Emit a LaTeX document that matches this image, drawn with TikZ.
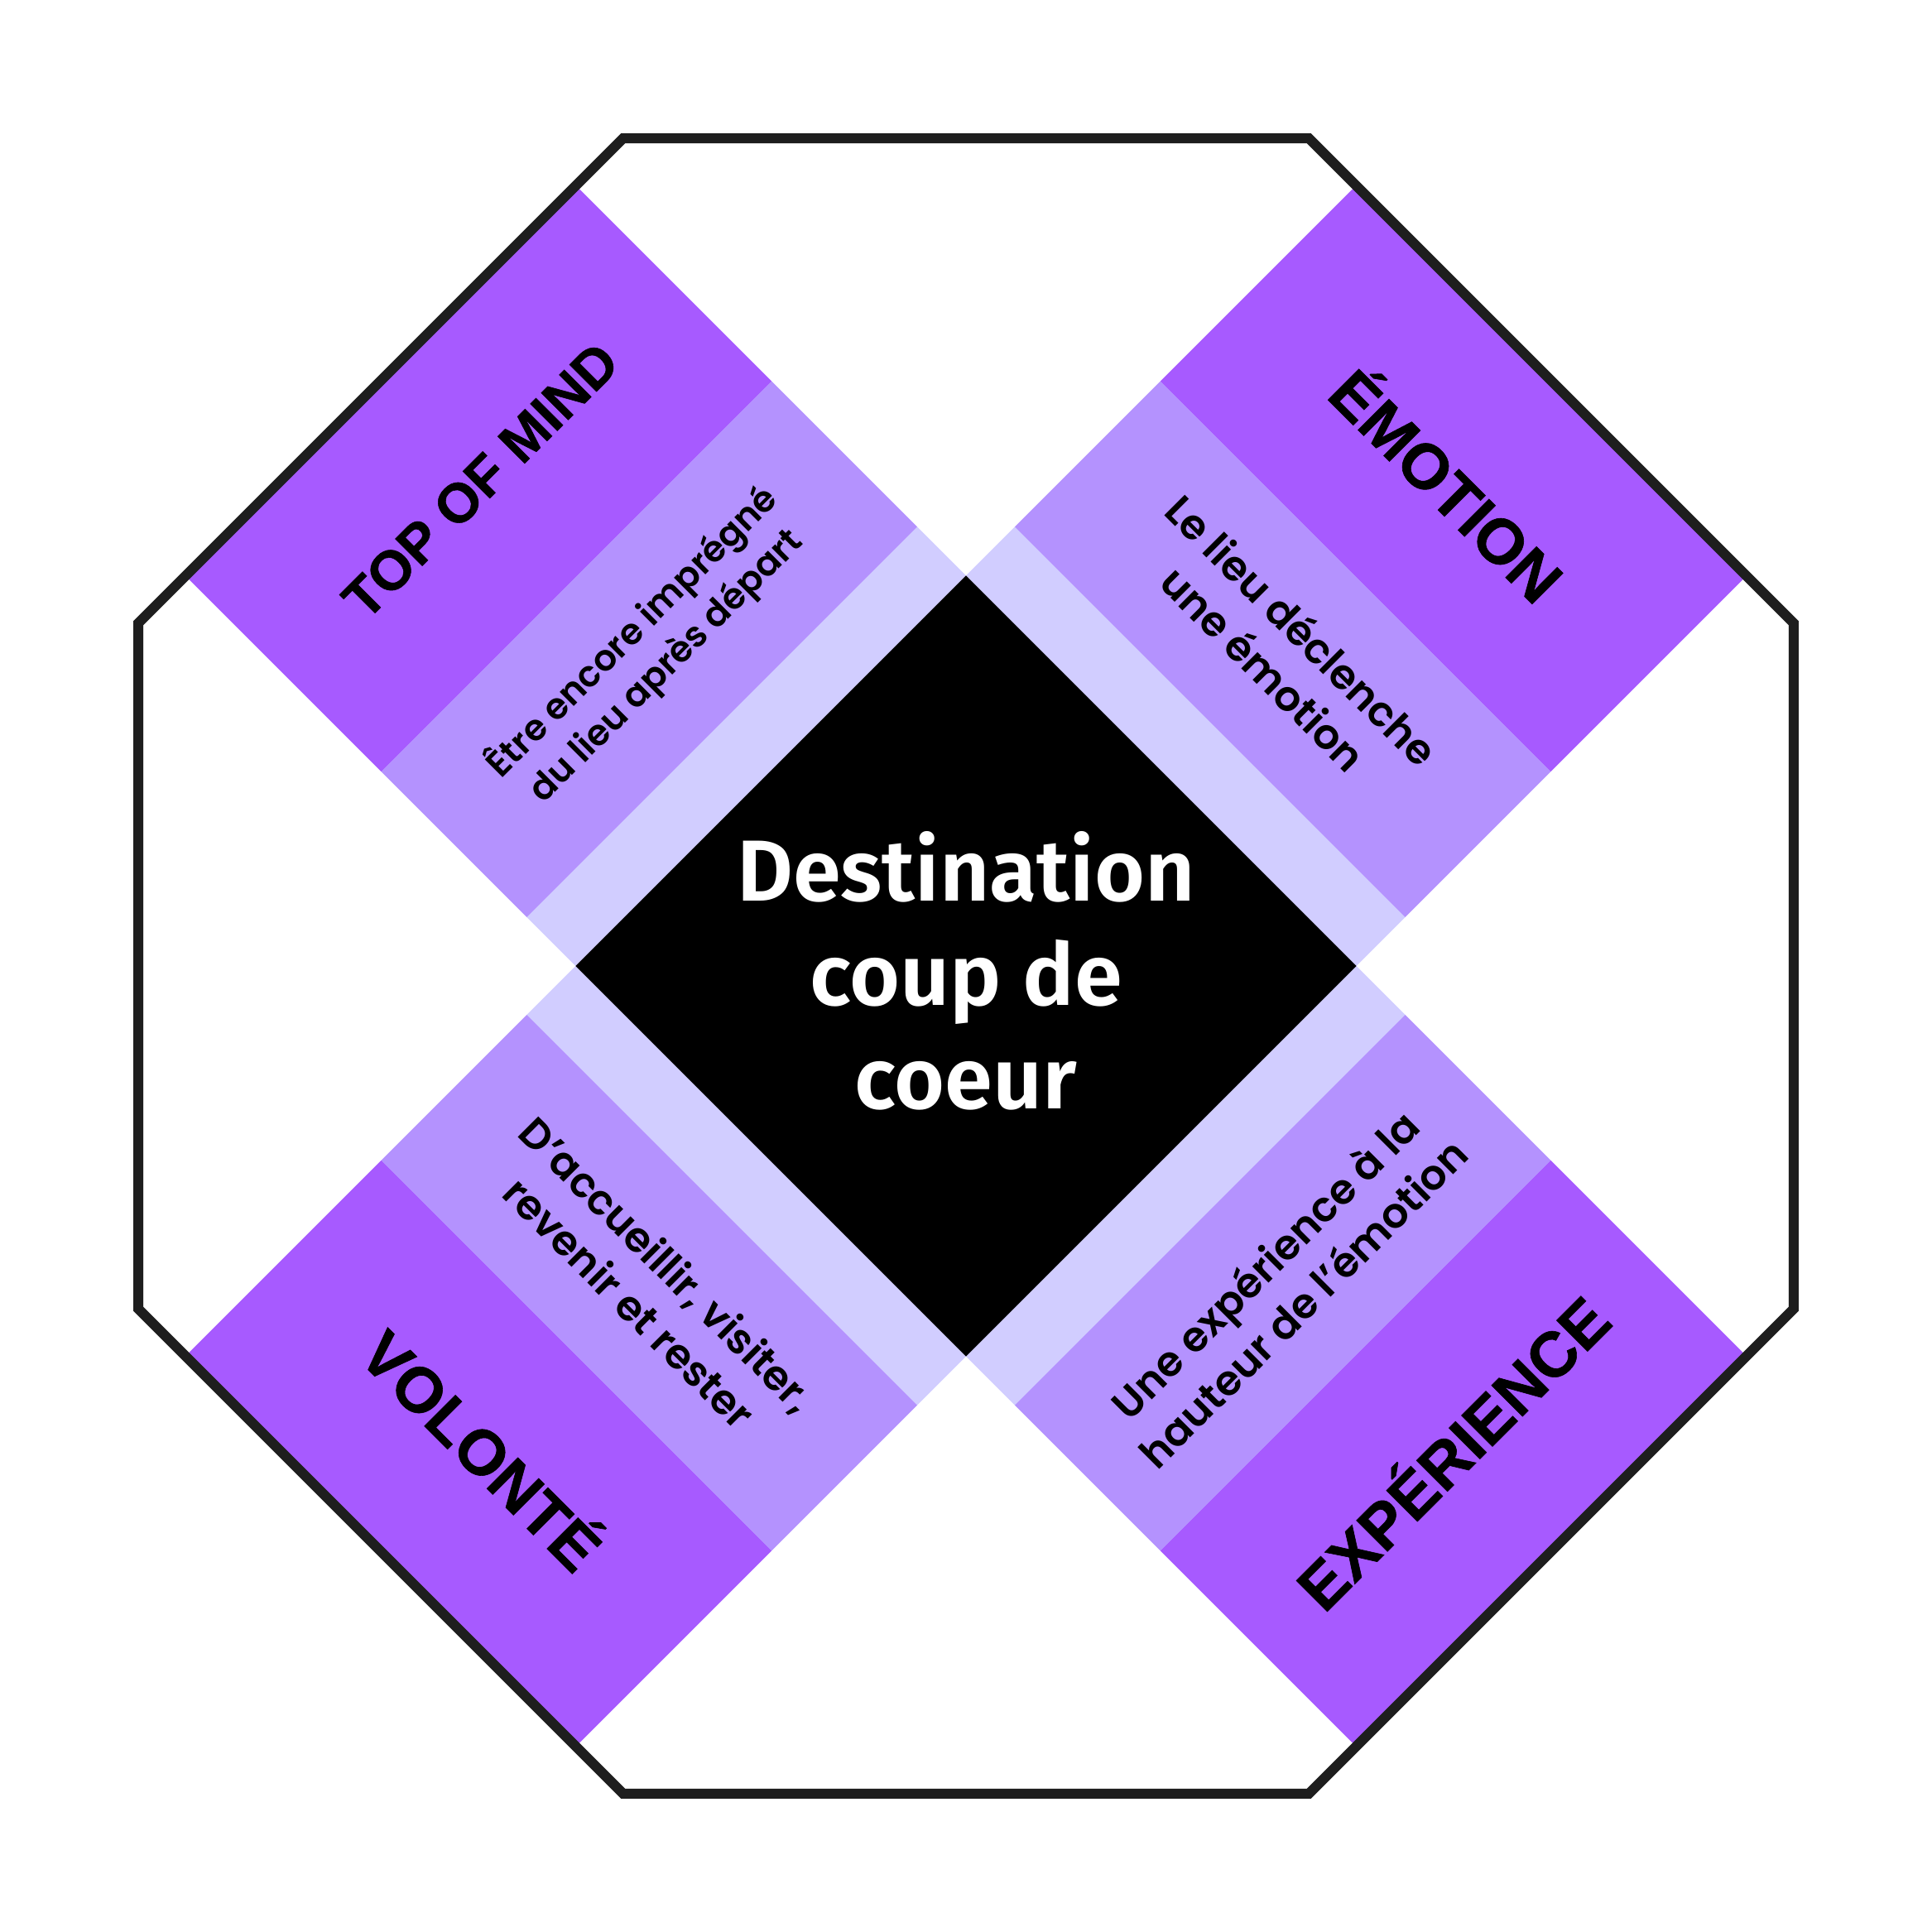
\documentclass[tikz,border=0pt]{standalone}
\usepackage{fontspec}
\setmainfont{Liberation Sans}
\newfontfamily\centerfont{Fira Sans SemiBold}
\newfontfamily\titlefont{Liberation Sans Bold}[FakeBold=0.8]
\newfontfamily\descfont{Poppins SemiBold}
\definecolor{armdark}{HTML}{A75AFF}
\definecolor{armmid}{HTML}{B492FE}
\definecolor{armlight}{HTML}{D1CDFF}
\definecolor{frame}{HTML}{1E1E1E}

\begin{document}
\begin{tikzpicture}[
    title/.style={font=\titlefont\fontsize{14.7}{17}\selectfont, align=center},
    desc/.style={font=\descfont\fontsize{9.6}{12.5}\selectfont, align=center},
  ]
  \useasboundingbox (-7.8375,-7.8375) rectangle (7.8375,7.8375);

  % bandes des quatre bras, puis le carre central
  \begin{scope}[rotate=45]
    \foreach \a in {0,90,180,270}{
      \begin{scope}[rotate=\a]
        \fill[armlight] (2.24,-2.24) rectangle (2.80,2.24);
        \fill[armmid] (2.80,-2.24) rectangle (4.47,2.24);
        \fill[armdark] (4.47,-2.24) rectangle (6.72,2.24);
      \end{scope}
    }
    \fill[black] (-2.24,-2.24) rectangle (2.24,2.24);
  \end{scope}

  % octogone
  \draw[frame, line width=2.3pt, line join=miter]
    (22.5:7.269) \foreach \i in {1,...,7}{ -- (22.5+45*\i:7.269)} -- cycle;

  \node[text=white, font=\centerfont\fontsize{20}{24}\selectfont, align=center]
    (dest) at (0,-0.04) {Destination\\coup de\\coeur};

  \node[title, rotate=-45] (emo) at (45:5.55) {ÉMOTION};
  \node[title, rotate=45, font=\titlefont\fontsize{12.8}{15}\selectfont]
    (top) at (135:5.57) {TOP OF MIND};
  \node[title, rotate=-45] (vol) at (225:5.52) {VOLONTÉ};
  \node[title, rotate=45] (exp) at (315:5.55) {EXPÉRIENCE};

  \node[desc, rotate=-45] (emo-txt) at (45:3.64) {Le lieu déclenche\\une émotion};
  \node[desc, rotate=45, font=\descfont\fontsize{8.3}{11}\selectfont]
    (top-txt) at (135:3.64) {Être encore imprégné\\du lieu après départ};
  \node[desc, rotate=-45] (vol-txt) at (225:3.64) {D’accueillir, visiter,\\revenir et rester};
  \node[desc, rotate=45] (exp-txt) at (315:3.64) {Une expérience à la\\hauteur de l’émotion};
\end{tikzpicture}
\end{document}
